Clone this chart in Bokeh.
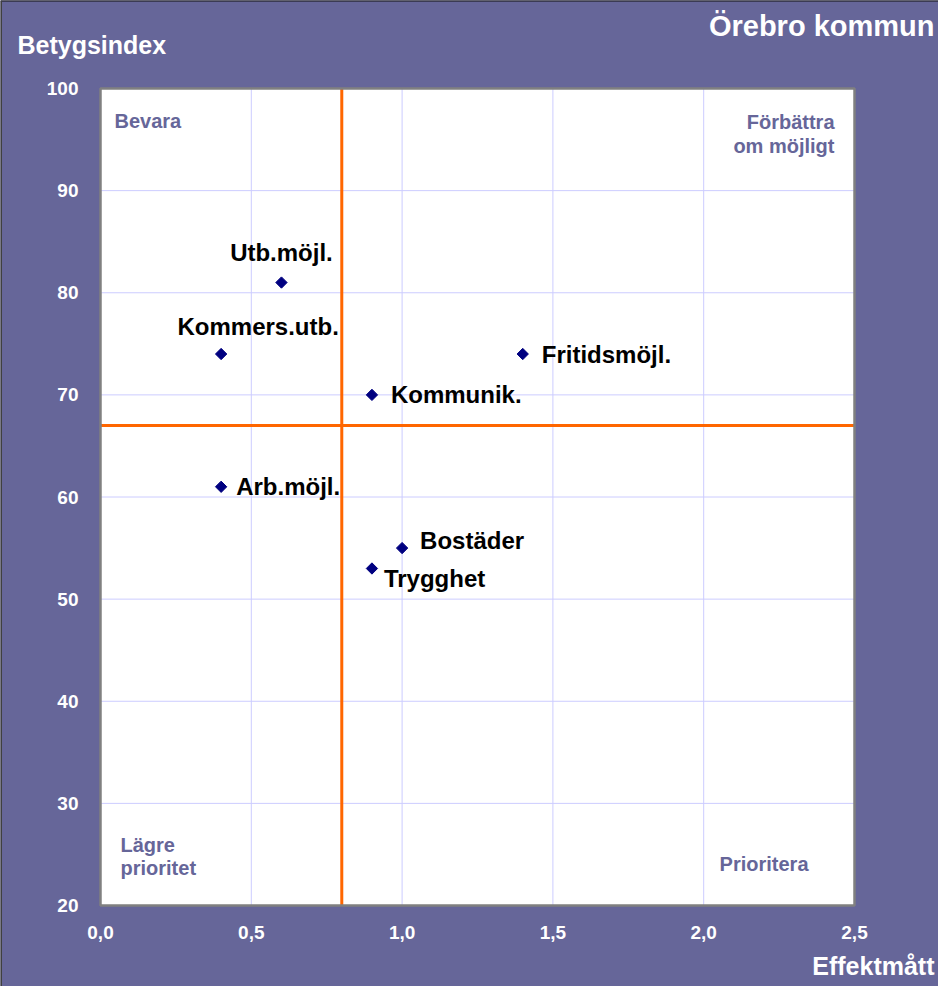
import math
from bokeh.plotting import figure
from bokeh.models import Label, Range1d, FixedTicker, CustomJSTickFormatter, Span
from bokeh.embed import file_html
from bokeh.resources import INLINE

# ---- data ----
names = ["Utb.möjl.", "Kommers.utb.", "Fritidsmöjl.", "Kommunik.", "Arb.möjl.", "Bostäder", "Trygghet"]
effekt = [0.6, 0.4, 1.4, 0.9, 0.4, 1.0, 0.9]
betyg = [81, 74, 74, 70, 61, 55, 53]
x_ticks = [0.0, 0.5, 1.0, 1.5, 2.0, 2.5]
y_ticks = [20, 30, 40, 50, 60, 70, 80, 90, 100]
x_split = 0.8
y_split = 67
title_text = "Örebro kommun"
x_title = "Effektmått"
y_title = "Betygsindex"

# ---- styles / layout ----
PURPLE = "#666699"
FONT = "Liberation Sans"
W, H = 938, 986
FL, FR, FT, FB = 100, 854, 88, 905          # plot box in canvas pixels
x0, x1 = x_ticks[0], x_ticks[-1]
y0, y1 = y_ticks[0], y_ticks[-1]
kx = (FR - FL) / (x1 - x0)
ky = (FB - FT) / (y1 - y0)
xr = Range1d(x0 - FL / kx, x1 + (W - FR) / kx)
yr = Range1d(y0 - (H - FB) / ky, y1 + FT / ky)

def px2x(px):
    return x0 + (px - FL) / kx

def px2y(py):
    return y1 - (py - FT) / ky

# label placement (align, dx, dy in screen px, dy positive = down)
label_style = {
    "Utb.möjl.": ("center", 0, -30),
    "Kommers.utb.": ("center", 37, -28),
    "Fritidsmöjl.": ("left", 19, 0),
    "Kommunik.": ("left", 19, 0),
    "Arb.möjl.": ("left", 15, 0),
    "Bostäder": ("left", 18, -8),
    "Trygghet": ("left", 12, 10),
}

p = figure(width=W, height=H, output_backend="svg", toolbar_location=None,
           x_range=xr, y_range=yr)
p.min_border = 0
p.background_fill_color = PURPLE
p.border_fill_color = PURPLE
p.outline_line_color = None
p.grid.visible = False

# dark outer edge (top and left)
p.add_layout(Span(location=yr.end, dimension="width", line_color="#111111", line_width=2))
p.add_layout(Span(location=xr.start, dimension="height", line_color="#404040", line_width=3))

# white plotting area
p.quad(left=[x0], right=[x1], bottom=[y0], top=[y1], fill_color="white",
       line_color=None)

# grid lines
p.segment(x0=x_ticks[1:-1], x1=x_ticks[1:-1], y0=[y0] * (len(x_ticks) - 2),
          y1=[y1] * (len(x_ticks) - 2), line_color="#ccccff", line_width=1)
p.segment(x0=[x0] * (len(y_ticks) - 2), x1=[x1] * (len(y_ticks) - 2),
          y0=y_ticks[1:-1], y1=y_ticks[1:-1], line_color="#ccccff", line_width=1)

# quadrant split lines
p.segment(x0=[x_split], x1=[x_split], y0=[y0], y1=[y1], line_color="#ff6600", line_width=3)
p.segment(x0=[x0], x1=[x1], y0=[y_split], y1=[y_split], line_color="#ff6600", line_width=3)

# gray frame
p.quad(left=[x0], right=[x1], bottom=[y0], top=[y1], fill_color=None,
       line_color="#808080", line_width=2.5)

# axes at fixed positions
for ax in (p.xaxis[0], p.yaxis[0]):
    ax.axis_line_color = None
    ax.major_tick_line_color = None
    ax.minor_tick_line_color = None
    ax.major_label_text_color = "white"
    ax.major_label_text_font = FONT
    ax.major_label_text_font_style = "bold"
    ax.major_label_text_font_size = "19px"
p.xaxis.fixed_location = y0
p.yaxis.fixed_location = x0
p.xaxis.ticker = FixedTicker(ticks=x_ticks)
p.yaxis.ticker = FixedTicker(ticks=y_ticks)
p.xaxis.formatter = CustomJSTickFormatter(code="return tick.toFixed(1).replace('.', ',');")
p.xaxis.major_label_standoff = 14
p.yaxis.major_label_standoff = 16

p.scatter(effekt, betyg, marker="square", angle=math.pi / 4, size=8,
          fill_color="#000080", line_color="#000080")

for n, xv, yv in zip(names, effekt, betyg):
    align, dx, dy = label_style[n]
    p.add_layout(Label(x=xv, y=yv, x_offset=dx, y_offset=-dy, text=n, text_align=align,
                       text_baseline="middle", text_font=FONT, text_font_style="bold",
                       text_font_size="24px", text_color="black"))

def txt(pxx, pyy, t, align, size, color):
    p.add_layout(Label(x=px2x(pxx), y=px2y(pyy), text=t, text_align=align,
                       text_baseline="middle", text_font=FONT, text_font_style="bold",
                       text_font_size=size, text_color=color))

# quadrant captions
txt(114, 120, "Bevara", "left", "20px", PURPLE)
txt(834, 121, "Förbättra", "right", "20px", PURPLE)
txt(834, 145, "om möjligt", "right", "20px", PURPLE)
txt(120, 844, "Lägre", "left", "20px", PURPLE)
txt(120, 867, "prioritet", "left", "20px", PURPLE)
txt(808, 863, "Prioritera", "right", "20px", PURPLE)

# titles
txt(934, 25, title_text, "right", "29px", "white")
txt(17, 44, y_title, "left", "25px", "white")
txt(934, 965, x_title, "right", "25px", "white")

open("out.html", "w").write(file_html(p, INLINE))
